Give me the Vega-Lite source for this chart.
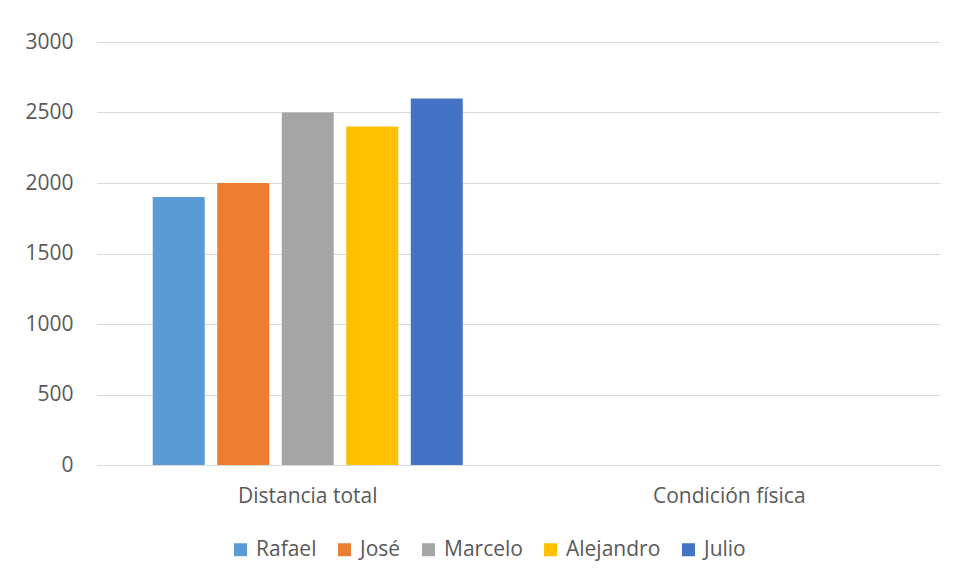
{
  "$schema": "https://vega.github.io/schema/vega-lite/v6.json",
  "width": 843,
  "height": 423,
  "autosize": {"type": "none"},
  "padding": {"left": 97, "top": 42, "right": 13, "bottom": 115},
  "background": "white",
  "config": {
    "font": "Open Sans",
    "view": {"stroke": null},
    "axis": {
      "labelFont": "Open Sans",
      "labelFontSize": 21,
      "labelColor": "#595959",
      "ticks": false,
      "title": null
    },
    "legend": {
      "labelFont": "Open Sans",
      "labelFontSize": 21,
      "labelColor": "#595959"
    }
  },
  "data": {
    "values": [
      {"categoria": "Distancia total", "nombre": "Rafael", "valor": 1900},
      {"categoria": "Distancia total", "nombre": "José", "valor": 2000},
      {"categoria": "Distancia total", "nombre": "Marcelo", "valor": 2500},
      {"categoria": "Distancia total", "nombre": "Alejandro", "valor": 2400},
      {"categoria": "Distancia total", "nombre": "Julio", "valor": 2600},
      {"categoria": "Condición física", "nombre": "Rafael", "valor": null},
      {"categoria": "Condición física", "nombre": "José", "valor": null},
      {"categoria": "Condición física", "nombre": "Marcelo", "valor": null},
      {"categoria": "Condición física", "nombre": "Alejandro", "valor": null},
      {"categoria": "Condición física", "nombre": "Julio", "valor": null}
    ]
  },
  "mark": {"type": "bar"},
  "encoding": {
    "x": {
      "field": "categoria",
      "type": "nominal",
      "sort": ["Distancia total", "Condición física"],
      "scale": {"domain": ["Distancia total", "Condición física"], "paddingInner": 0.2645, "paddingOuter": 0.1322},
      "axis": {
        "labelAngle": 0,
        "domainColor": "#d9d9d9",
        "domainWidth": 1,
        "labelPadding": 20,
        "grid": false
      }
    },
    "xOffset": {
      "field": "nombre",
      "type": "nominal",
      "sort": ["Rafael", "José", "Marcelo", "Alejandro", "Julio"],
      "scale": {"paddingInner": 0.194, "paddingOuter": 0}
    },
    "y": {
      "field": "valor",
      "type": "quantitative",
      "scale": {"domain": [0, 3000], "nice": false},
      "axis": {
        "values": [0, 500, 1000, 1500, 2000, 2500, 3000],
        "format": "d",
        "domain": false,
        "grid": true,
        "gridColor": "#d9d9d9",
        "gridWidth": 1,
        "labelPadding": 24
      }
    },
    "color": {
      "field": "nombre",
      "type": "nominal",
      "sort": ["Rafael", "José", "Marcelo", "Alejandro", "Julio"],
      "scale": {
        "domain": ["Rafael", "José", "Marcelo", "Alejandro", "Julio"],
        "range": ["#5B9BD5", "#ED7D31", "#A5A5A5", "#FFC000", "#4472C4"]
      },
      "legend": {
        "title": null,
        "orient": "none",
        "legendX": 133,
        "legendY": 497,
        "direction": "horizontal",
        "columns": 5,
        "symbolType": "square",
        "symbolSize": 169,
        "symbolStrokeWidth": 0,
        "symbolOpacity": 1,
        "labelOffset": 5,
        "columnPadding": 17
      }
    }
  }
}
